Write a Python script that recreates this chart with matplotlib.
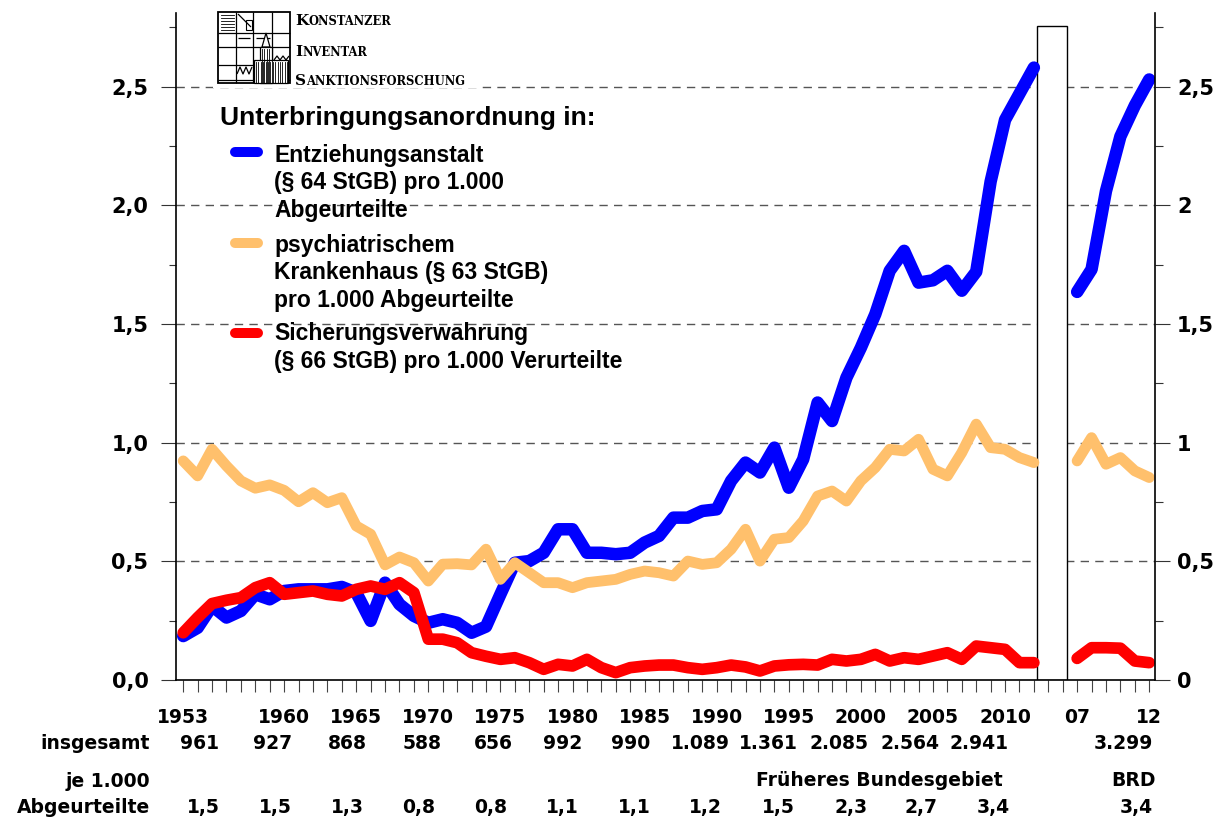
import matplotlib
matplotlib.use("Agg")
import matplotlib.pyplot as plt
import numpy as np
from matplotlib.patches import Rectangle, Polygon
from matplotlib.transforms import blended_transform_factory

# ---------------- data ----------------
years_a = list(range(1953, 2013))          # Früheres Bundesgebiet
years_b = list(range(2007, 2013))          # BRD

entziehung_a = [0.185, 0.220, 0.312, 0.263, 0.291, 0.361, 0.340, 0.375, 0.382, 0.382,
                0.382, 0.392, 0.368, 0.249, 0.410, 0.319, 0.270, 0.241, 0.256, 0.241,
                0.199, 0.225, 0.361, 0.494, 0.501, 0.536, 0.635, 0.635, 0.536, 0.536,
                0.530, 0.536, 0.579, 0.607, 0.684, 0.684, 0.712, 0.719, 0.839, 0.916,
                0.874, 0.979, 0.810, 0.930, 1.169, 1.091, 1.274, 1.400, 1.541, 1.724,
                1.808, 1.674, 1.684, 1.724, 1.640, 1.720, 2.100, 2.360, 2.470, 2.580]
psychiatrie_a = [0.923, 0.860, 0.972, 0.902, 0.839, 0.808, 0.822, 0.799, 0.751, 0.789,
                 0.747, 0.768, 0.649, 0.614, 0.485, 0.518, 0.494, 0.417, 0.488, 0.490,
                 0.485, 0.551, 0.424, 0.494, 0.452, 0.410, 0.410, 0.389, 0.410, 0.417,
                 0.424, 0.445, 0.459, 0.452, 0.438, 0.501, 0.487, 0.494, 0.551, 0.635,
                 0.501, 0.593, 0.600, 0.670, 0.775, 0.796, 0.754, 0.839, 0.895, 0.972,
                 0.965, 1.014, 0.888, 0.860, 0.958, 1.078, 0.979, 0.972, 0.937, 0.916]
sicherung_a = [0.199, 0.263, 0.322, 0.336, 0.347, 0.389, 0.410, 0.361, 0.368, 0.375,
               0.361, 0.354, 0.382, 0.396, 0.382, 0.410, 0.368, 0.172, 0.172, 0.157,
               0.115, 0.100, 0.087, 0.094, 0.073, 0.045, 0.066, 0.059, 0.087, 0.052,
               0.031, 0.052, 0.059, 0.063, 0.063, 0.052, 0.045, 0.052, 0.063, 0.055,
               0.038, 0.059, 0.064, 0.066, 0.063, 0.087, 0.080, 0.087, 0.108, 0.080,
               0.094, 0.087, 0.101, 0.115, 0.087, 0.143, 0.136, 0.129, 0.073, 0.073]

entziehung_b = [1.635, 1.730, 2.060, 2.290, 2.420, 2.530]
psychiatrie_b = [0.923, 1.021, 0.909, 0.937, 0.881, 0.853]
sicherung_b = [0.091, 0.136, 0.136, 0.134, 0.080, 0.073]

year_tick_labels = ["1953", "1960", "1965", "1970", "1975", "1980", "1985", "1990",
                    "1995", "2000", "2005", "2010", "07", "12"]
year_tick_years = [1953, 1960, 1965, 1970, 1975, 1980, 1985, 1990, 1995, 2000, 2005, 2010]
year_tick_years_b = [2007, 2012]

insgesamt_labels = ["961", "927", "868", "588", "656", "992", "990", "1.089", "1.361",
                    "2.085", "2.564", "2.941", "3.299"]
je1000_labels = ["1,5", "1,5", "1,3", "0,8", "0,8", "1,1", "1,1", "1,2", "1,5", "2,3",
                 "2,7", "3,4", "3,4"]

left_ticks = [0.0, 0.5, 1.0, 1.5, 2.0, 2.5]
left_tick_labels = ["0,0", "0,5", "1,0", "1,5", "2,0", "2,5"]
right_tick_labels = ["0", "0,5", "1", "1,5", "2", "2,5"]

series_names = [["Entziehungsanstalt", "(§ 64 StGB) pro 1.000", "Abgeurteilte"],
                ["psychiatrischem", "Krankenhaus (§ 63 StGB)", "pro 1.000 Abgeurteilte"],
                ["Sicherungsverwahrung", "(§ 66 StGB) pro 1.000 Verurteilte"]]
legend_title = "Unterbringungsanordnung in:"

# ---------------- positions / styles ----------------
BLUE, ORANGE, RED = "#0000FF", "#FFC06C", "#FF0000"
W, H = 1232, 822
L, R, B, T = 176, 1155, 680, 13
XMIN, XMAX, YMAX = -0.5, 67.4, 2.81

plt.rcParams["font.family"] = ["Liberation Sans", "DejaVu Sans"]
plt.rcParams["font.weight"] = "bold"

fig = plt.figure(figsize=(W / 100, H / 100), dpi=100)
ax = fig.add_axes([L / W, 1 - B / H, (R - L) / W, (B - T) / H])
ax.set_xlim(XMIN, XMAX)
ax.set_ylim(0, YMAX)

xa = np.arange(len(years_a))
xb = np.arange(len(years_b)) + len(years_a) + 2

# grid
for v in left_ticks[1:]:
    ax.axhline(v, color="#555555", lw=1.0, ls=(0, (6, 4.5)), zorder=1)

# gap box
ax.add_patch(Rectangle((len(years_a) - 0.76, 0), 2.06, 2.756, fc="white", ec="black",
                       lw=1.0, zorder=2))

for vals_a, vals_b, col, lw in [(entziehung_a, entziehung_b, BLUE, 9.0),
                                (psychiatrie_a, psychiatrie_b, ORANGE, 7.8),
                                (sicherung_a, sicherung_b, RED, 8.4)]:
    for xs, ys in [(xa, vals_a), (xb, vals_b)]:
        ax.plot(xs, ys, color=col, lw=lw, solid_capstyle="round",
                solid_joinstyle="round", zorder=3)

# axes styling
for s in ["top", "right"]:
    ax.spines[s].set_visible(False)
for s in ["left", "bottom"]:
    ax.spines[s].set_linewidth(1.2)
ax.set_xticks(np.arange(0, 68))
ax.tick_params(axis="x", direction="out", length=8.5, width=0.8, color="#444444",
               labelbottom=False)
ax.set_yticks(left_ticks)
ax.set_yticklabels(left_tick_labels)
ax.set_yticks(np.arange(0.25, 2.8, 0.5), minor=True)
ax.tick_params(axis="y", which="major", direction="out", length=10.8, width=0.8,
               color="#333333", pad=9, labelsize=15, labelfontfamily="DejaVu Sans")
ax.tick_params(axis="y", which="minor", direction="out", length=5, width=0.8,
               color="#333333")

ax2 = ax.twinx()
ax2.set_ylim(0, YMAX)
for s in ["top", "left", "bottom"]:
    ax2.spines[s].set_visible(False)
ax2.spines["right"].set_linewidth(1.2)
ax2.set_yticks(left_ticks)
ax2.set_yticklabels(right_tick_labels)
ax2.set_yticks(np.arange(0.25, 2.8, 0.5), minor=True)
ax2.tick_params(axis="y", which="major", direction="out", length=10.8, width=0.8,
                color="#333333", pad=5, labelsize=15, labelfontfamily="DejaVu Sans")
ax2.tick_params(axis="y", which="minor", direction="out", length=5.5, width=0.8,
                color="#333333")

# overlay in pixel coordinates
ov = fig.add_axes([0, 0, 1, 1])
ov.set_xlim(0, W)
ov.set_ylim(H, 0)
ov.axis("off")
ov.set_zorder(5)

# ---- logo ----
ov.add_patch(Rectangle((213, 3), 264, 85, fc="white", ec="none", zorder=1))
lk = dict(color="black", lw=0.9, zorder=2, solid_capstyle="butt")
ov.add_patch(Rectangle((218, 12), 72, 71, fc="none", ec="black", lw=1.3, zorder=2))
for xx in [236, 253, 272]:
    ov.plot([xx, xx], [12, 83], **lk)
ov.plot([218, 290], [33, 33], **lk)
ov.plot([218, 290], [47, 47], **lk)
ov.plot([218, 253], [65, 65], **lk)
for yy in range(15, 33, 3):
    ov.plot([221, 234], [yy, yy], color="black", lw=0.6, zorder=2)
ov.plot([238, 251], [14, 27], **lk)
ov.add_patch(Rectangle((246, 20), 6, 10, fc="none", ec="black", lw=0.8, zorder=2))
ov.plot([238, 250], [38, 38], **lk)
ov.plot([256, 270], [38, 38], **lk)
ov.add_patch(Polygon([(262, 47), (266, 33), (270, 47)], closed=True, fc="white",
                     ec="black", lw=0.9, zorder=3))
ov.add_patch(Rectangle((260, 47), 12, 36, fc="white", ec="black", lw=0.9, zorder=3))
ov.add_patch(Rectangle((254, 60), 34, 23, fc="white", ec="black", lw=0.9, zorder=3))
for xx in np.arange(256, 288, 2.4):
    ov.plot([xx, xx], [62, 83], color="black", lw=0.6, zorder=4)
for xx in np.arange(262, 272, 2.4):
    ov.plot([xx, xx], [49, 83], color="black", lw=0.6, zorder=4)
ov.plot([274, 277, 280, 283, 286, 289], [60, 56, 60, 56, 60, 56], **lk)
ov.plot([237, 240, 243, 246, 249, 252], [74, 67, 74, 67, 74, 67], **lk)
ov.plot([218, 290], [80, 80], **lk)

logo_words = [("K", "ONSTANZER", 25), ("I", "NVENTAR", 56.5), ("S", "ANKTIONSFORSCHUNG", 85)]
for first, rest, yb in logo_words:
    t1 = ov.text(295, yb, first, fontsize=11, family="DejaVu Serif", weight="bold",
                 va="baseline", ha="left", zorder=5)
    ov.annotate(rest, xy=(1, 0), xycoords=t1, va="bottom", ha="left", fontsize=8.3,
                family="DejaVu Serif", weight="bold", zorder=5)

# ---- legend ----
ov.text(220, 125, legend_title, fontsize=19, weight="bold", va="baseline", ha="left",
        zorder=5)
handle_y = [151.7, 243.3, 333.3]
line_baselines = [[161.7, 189.2, 216.7], [251.7, 279.2, 306.7], [340.0, 367.5]]
for col, hy, lines, bls in zip([BLUE, ORANGE, RED], handle_y, series_names, line_baselines):
    ov.plot([235, 258], [hy, hy], color=col, lw=7.2, solid_capstyle="round", zorder=5)
    for s, yb in zip(lines, bls):
        ov.text(274, yb, s, fontsize=16.5, weight="bold", va="baseline", ha="left",
                zorder=5)

# ---- table below the axis ----
tr = blended_transform_factory(ax.transData, ov.transData)
tab_font = dict(fontsize=13.5, family="DejaVu Sans", weight="bold", zorder=5)
year_pos = [y - years_a[0] for y in year_tick_years] + \
           [len(years_a) + 2 + (y - years_b[0]) for y in year_tick_years_b]
for p, s in zip(year_pos, year_tick_labels):
    ov.text(p, 723, s, transform=tr, ha="center", va="baseline", **tab_font)

insg_pos = [1.16, 6.2, 11.4, 16.6, 21.5, 26.3, 31.0, 35.9, 40.6, 45.5, 50.4, 55.2, 65.2]
for p, s in zip(insg_pos, insgesamt_labels):
    ov.text(p, 749, s, transform=tr, ha="center", va="baseline", **tab_font)

je_pos = [1.4, 6.4, 11.4, 16.3, 21.3, 26.3, 31.3, 36.2, 41.3, 46.3, 51.2, 56.2, 66.1]
for p, s in zip(je_pos, je1000_labels):
    ov.text(p, 813, s, transform=tr, ha="center", va="baseline", **tab_font)

ov.text(48.3, 786, "Früheres Bundesgebiet", transform=tr, ha="center", va="baseline",
        **tab_font)
ov.text(65.9, 786, "BRD", transform=tr, ha="center", va="baseline", **tab_font)

for s, yb in [("insgesamt", 749), ("je 1.000", 787), ("Abgeurteilte", 813)]:
    ov.text(150, yb, s, ha="right", va="baseline", **tab_font)

fig.savefig("out.png", dpi=100, facecolor="white")
